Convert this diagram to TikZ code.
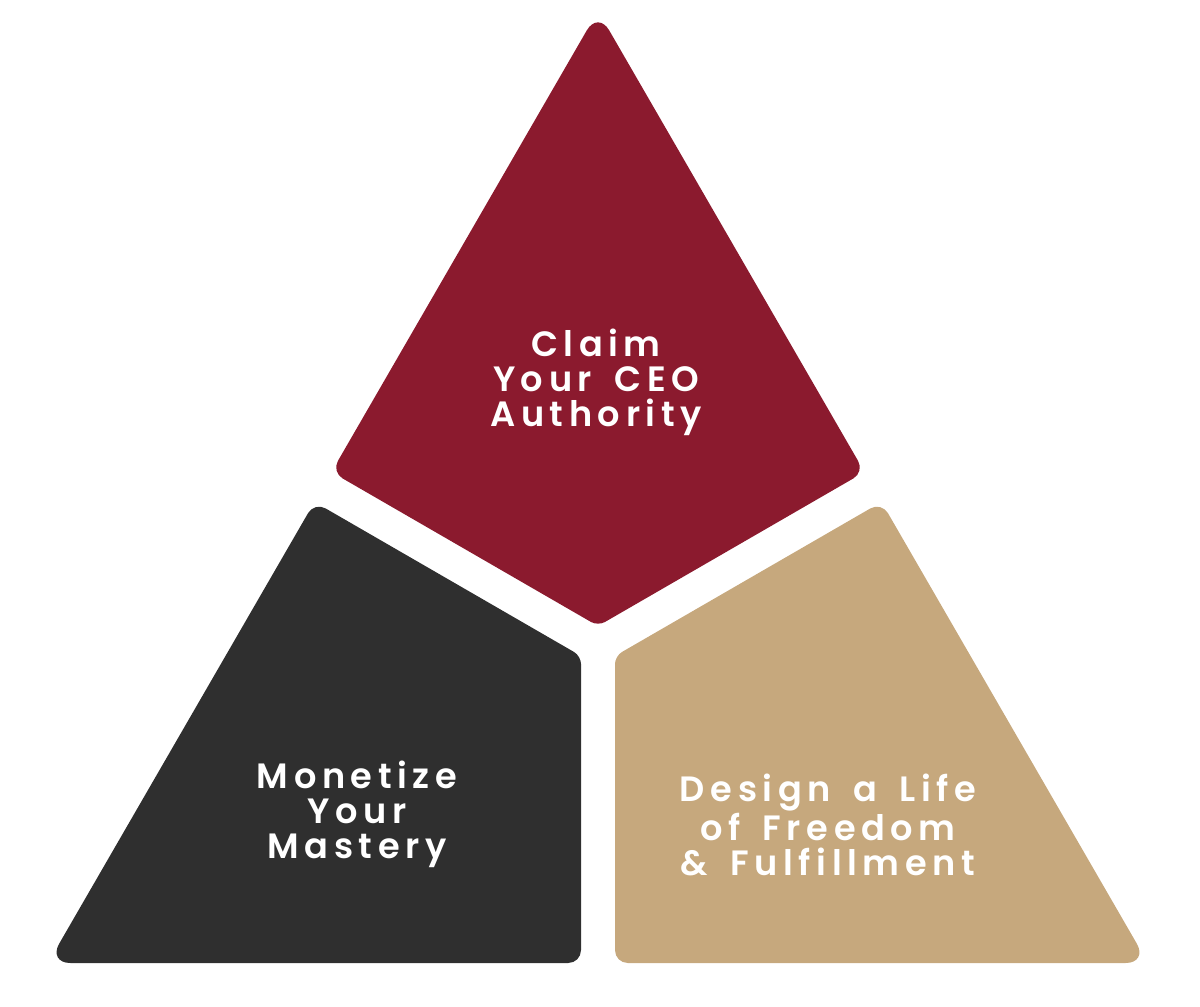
\documentclass[tikz,border=0pt]{standalone}
\usepackage{fontspec}
\setmainfont{Poppins}
\newfontfamily\pillarfont{Poppins SemiBold}[LetterSpace=16, WordSpace=1.6]
\usetikzlibrary{positioning, calc}

\definecolor{ceored}{RGB}{139,26,46}
\definecolor{masterygray}{RGB}{47,47,47}
\definecolor{freedomtan}{RGB}{198,168,125}

\begin{document}
\begin{tikzpicture}[
    x=0.25mm, y=-0.25mm,
    every node/.style={align=center, text=white, font=\pillarfont\fontsize{25}{25}\selectfont}
]

\useasboundingbox (0,0) rectangle (1200,1007);

% Corners
\coordinate (apex) at (598,11);
\coordinate (lmid) at (331.5,472);
\coordinate (rmid) at (864.5,472);
\coordinate (hub) at (598,626);
\coordinate (lhub) at (581,656);
\coordinate (rhub) at (615,656);
\coordinate (ltop) at (314.5,502);
\coordinate (rtop) at (881.5,502);
\coordinate (lbase) at (48,963);
\coordinate (lcut) at (581,963);
\coordinate (rcut) at (615,963);
\coordinate (rbase) at (1148,963);

% Shapes (60, 90 and 120 degree corners get their own radius)
\fill[ceored] ($(apex)!0.5!(lmid)$) [rounded corners=5.6mm] -- (apex) [rounded corners=3.2mm] -- (rmid)
    [rounded corners=2mm] -- (hub) [rounded corners=3.2mm] -- (lmid) -- cycle;
\fill[masterygray] ($(ltop)!0.5!(lhub)$) [rounded corners=2mm] -- (lhub) [rounded corners=3.2mm] -- (lcut)
    [rounded corners=5.6mm] -- (lbase) [rounded corners=3.2mm] -- (ltop) -- cycle;
\fill[freedomtan] ($(rtop)!0.5!(rbase)$) [rounded corners=5.6mm] -- (rbase) [rounded corners=3.2mm] -- (rcut)
    [rounded corners=2mm] -- (rhub) [rounded corners=3.2mm] -- (rtop) -- cycle;

% Labels
\node (claim) at (596,382) {Claim\\Your CEO\\Authority};
\node (monetize) at (357,814) {Monetize\\Your\\Mastery};
\node (design) at (828,825) {Design a Life\\of Freedom\\\& Fulfillment};

\end{tikzpicture}
\end{document}
